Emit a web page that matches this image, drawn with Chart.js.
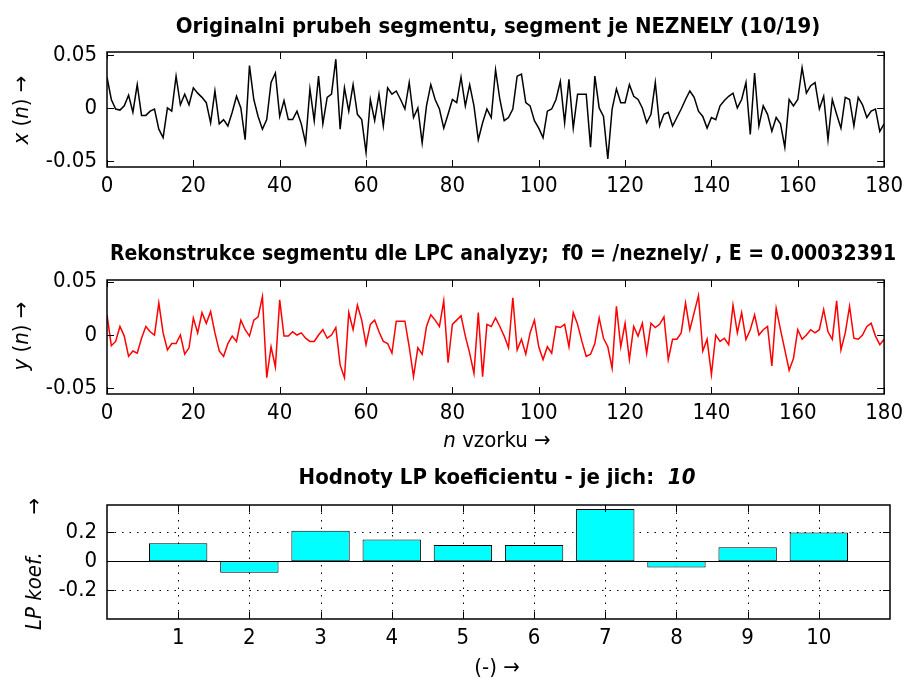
<!DOCTYPE html>
<html>
<head>
<meta charset="utf-8">
<script src="https://cdn.jsdelivr.net/npm/chart.js@4.4.0/dist/chart.umd.min.js"></script>
<style>
  body { margin: 0; background: #fff; }
  #wrap { position: relative; width: 909px; height: 682px; }
  canvas { position: absolute; left: 0; top: 0; }
</style>
</head>
<body>
<div id="wrap">
  <canvas id="c1" width="909" height="682"></canvas>
  <canvas id="c2" width="909" height="682"></canvas>
  <canvas id="c3" width="909" height="682"></canvas>
</div>
<script>
// ---- data ----
const origSig = [
  0.029, 0.008, -0.001, -0.002, 0.002, 0.012, -0.004, 0.022, -0.007, -0.007,
  -0.003, -0.001, -0.020, -0.028, 0.000, -0.003, 0.030, 0.003, 0.013, 0.003,
  0.019, 0.014, 0.010, 0.005, -0.014, 0.016, -0.015, -0.011, -0.017, -0.004,
  0.011, 0.000, -0.030, 0.040, 0.008, -0.008, -0.020, -0.011, 0.024, 0.033,
  -0.008, 0.007, -0.011, -0.011, -0.003, -0.015, -0.033, 0.018, -0.012, 0.030,
  -0.015, 0.010, 0.013, 0.046, -0.020, 0.019, -0.003, 0.022, -0.006, -0.011,
  -0.042, 0.008, -0.012, 0.013, -0.017, 0.019, 0.013, 0.016, 0.008, -0.001,
  0.024, -0.009, 0.000, -0.033, 0.002, 0.022, 0.008, -0.001, -0.019, -0.006,
  0.008, 0.005, 0.029, 0.002, 0.022, 0.002, -0.030, -0.014, -0.001, -0.009,
  0.036, 0.008, -0.012, -0.009, -0.001, 0.030, 0.032, 0.005, 0.002, -0.012,
  -0.019, -0.028, -0.003, -0.001, 0.008, 0.025, -0.014, 0.027, -0.019, 0.013,
  0.013, 0.013, -0.037, 0.030, 0.000, -0.008, -0.048, -0.001, 0.018, 0.005,
  0.005, 0.022, 0.011, 0.008, 0.000, -0.014, -0.006, 0.024, -0.017, -0.006,
  -0.004, -0.017, -0.009, -0.001, 0.008, 0.016, 0.010, -0.003, -0.008, -0.019,
  -0.009, -0.011, 0.002, 0.007, 0.011, 0.014, 0.000, 0.008, 0.024, -0.025,
  0.033, -0.017, 0.002, -0.006, -0.022, -0.009, -0.015, -0.037, 0.008, 0.002,
  0.008, 0.038, 0.014, 0.021, 0.024, -0.001, 0.011, -0.030, 0.008, -0.006,
  -0.019, 0.010, 0.008, -0.017, 0.010, 0.003, -0.009, -0.003, -0.001, -0.022,
  -0.015
];
const reconSig = [
  0.019, -0.010, -0.006, 0.008, -0.001, -0.020, -0.015, -0.017, -0.003, 0.008,
  0.003, 0.000, 0.030, 0.002, -0.014, -0.008, -0.008, 0.000, -0.018, -0.012,
  0.016, 0.002, 0.021, 0.011, 0.022, 0.002, -0.015, -0.020, -0.008, -0.001,
  -0.006, 0.014, 0.005, -0.001, 0.014, 0.017, 0.036, -0.040, -0.011, -0.030,
  0.033, -0.001, -0.001, 0.003, 0.000, 0.002, -0.003, -0.006, -0.006, 0.000,
  0.005, -0.003, 0.000, 0.007, -0.028, -0.040, 0.021, 0.005, 0.028, 0.014,
  -0.009, 0.010, 0.014, 0.003, -0.006, -0.008, -0.017, 0.013, 0.013, 0.013,
  -0.011, -0.039, -0.012, -0.018, 0.008, 0.019, 0.014, 0.008, 0.032, -0.026,
  0.010, 0.014, 0.018, -0.001, -0.017, -0.036, 0.021, -0.039, 0.010, 0.008,
  0.016, 0.008, -0.001, -0.012, 0.035, -0.014, -0.004, -0.018, 0.002, 0.014,
  -0.011, -0.023, -0.011, -0.017, 0.008, 0.007, 0.010, -0.011, 0.021, 0.010,
  -0.006, -0.020, -0.018, -0.008, 0.016, -0.003, -0.011, -0.031, 0.027, -0.011,
  0.011, -0.023, 0.008, -0.001, 0.011, -0.017, 0.011, 0.007, 0.010, 0.017,
  -0.023, -0.004, -0.004, 0.002, 0.030, 0.005, 0.021, 0.037, -0.015, -0.004,
  -0.037, 0.000, -0.006, -0.003, -0.009, 0.028, 0.002, 0.021, -0.004, 0.005,
  0.019, 0.000, 0.005, 0.008, -0.029, 0.025, 0.005, -0.014, -0.033, -0.022,
  0.005, -0.004, 0.000, 0.005, 0.002, 0.005, 0.024, 0.003, -0.004, 0.032,
  -0.014, 0.002, 0.027, -0.003, -0.004, 0.000, 0.008, 0.011, -0.001, -0.009,
  -0.004
];
const lpIndex = [1, 2, 3, 4, 5, 6, 7, 8, 9, 10];
const lpCoef = [0.125, -0.079, 0.212, 0.151, 0.114, 0.114, 0.363, -0.042, 0.098, 0.200];

const sigTicksX = [0, 20, 40, 60, 80, 100, 120, 140, 160, 180];
const sigTicksY = [-0.05, 0, 0.05];
const sigTickLabelsY = ['-0.05', '0', '0.05'];
const lpTicksY = [-0.2, 0, 0.2];
const lpTickLabelsY = ['-0.2', '0', '0.2'];

const FAM = "'Liberation Sans Narrow', 'DejaVu Sans Condensed', 'Liberation Sans', sans-serif";
Chart.defaults.font.family = FAM;
Chart.defaults.font.size = 22;
Chart.defaults.color = '#000';

// text with mixed styles, centred on (x, y), optionally rotated
function drawRich(ctx, parts, x, y, rot, size) {
  ctx.save();
  ctx.translate(x, y);
  if (rot) ctx.rotate(-Math.PI / 2);
  ctx.textBaseline = 'middle';
  ctx.textAlign = 'left';
  ctx.fillStyle = '#000';
  let w = 0;
  for (const p of parts) {
    ctx.font = (p.s || '') + ' ' + size + 'px ' + FAM;
    w += ctx.measureText(p.t).width;
  }
  let cx = -w / 2;
  for (const p of parts) {
    ctx.font = (p.s || '') + ' ' + size + 'px ' + FAM;
    ctx.fillText(p.t, cx, 0);
    cx += ctx.measureText(p.t).width;
  }
  ctx.restore();
}

const matlabAxes = {
  id: 'matlabAxes',
  beforeDatasetsDraw(chart, args, opts) {
    if (!opts.grid) return;
    const ctx = chart.ctx, a = chart.chartArea;
    const xs = chart.scales.x, ys = chart.scales.y;
    ctx.save();
    ctx.strokeStyle = '#000';
    ctx.lineWidth = 1;
    ctx.setLineDash([1.5, 6]);
    ctx.beginPath();
    xs.ticks.forEach(t => {
      const px = Math.round(xs.getPixelForValue(t.value)) + 0.5;
      ctx.moveTo(px, a.top); ctx.lineTo(px, a.bottom);
    });
    ys.ticks.forEach(t => {
      const py = Math.round(ys.getPixelForValue(t.value)) + 0.5;
      ctx.moveTo(a.left, py); ctx.lineTo(a.right, py);
    });
    ctx.stroke();
    ctx.restore();
  },
  afterDatasetsDraw(chart, args, opts) {
    const ctx = chart.ctx, a = chart.chartArea;
    const xs = chart.scales.x, ys = chart.scales.y;
    const tl = 7;
    ctx.save();
    ctx.strokeStyle = '#000';
    ctx.lineWidth = 1;
    ctx.beginPath();
    xs.ticks.forEach(t => {
      const px = Math.round(xs.getPixelForValue(t.value)) + 0.5;
      ctx.moveTo(px, a.top); ctx.lineTo(px, a.top + tl);
      ctx.moveTo(px, a.bottom); ctx.lineTo(px, a.bottom - tl);
    });
    ys.ticks.forEach(t => {
      const py = Math.round(ys.getPixelForValue(t.value)) + 0.5;
      ctx.moveTo(a.left, py); ctx.lineTo(a.left + tl, py);
      ctx.moveTo(a.right, py); ctx.lineTo(a.right - tl, py);
    });
    if (opts.baseline) {
      const py = Math.round(ys.getPixelForValue(0)) + 0.5;
      ctx.moveTo(a.left, py); ctx.lineTo(a.right, py);
    }
    ctx.stroke();
    ctx.lineWidth = 1.5;
    ctx.strokeRect(a.left, a.top, a.right - a.left, a.bottom - a.top);
    ctx.restore();
  },
  afterDraw(chart, args, opts) {
    (opts.texts || []).forEach(t => drawRich(chart.ctx, t.parts, t.x, t.y, t.rot, t.size));
  }
};

function axisScales(box, xCfg, yCfg) {
  return {
    x: Object.assign({
      type: 'linear',
      grid: { display: false, drawTicks: false },
      border: { display: false },
      ticks: { padding: 6, maxRotation: 0 },
      afterFit: s => { s.height = 682 - box.bottom; }
    }, xCfg),
    y: Object.assign({
      type: 'linear',
      grid: { display: false, drawTicks: false },
      border: { display: false },
      ticks: { padding: 10 },
      afterFit: s => { s.width = box.left; }
    }, yCfg)
  };
}

function lineChart(id, sig, color, box, yMin, yMax, texts) {
  return new Chart(document.getElementById(id), {
    type: 'line',
    data: {
      datasets: [{
        data: sig.map((v, i) => ({ x: i, y: v })),
        borderColor: color,
        borderWidth: 1.5,
        pointRadius: 0,
        tension: 0,
        fill: false
      }]
    },
    options: {
      responsive: false,
      animation: false,
      layout: { padding: { left: 0, top: box.top, right: 909 - box.right, bottom: 0 } },
      plugins: { legend: { display: false }, tooltip: { enabled: false },
        matlabAxes: { texts: texts } },
      scales: axisScales(box,
        { min: 0, max: 180,
          afterBuildTicks: s => { s.ticks = sigTicksX.map(v => ({ value: v })); } },
        { min: yMin, max: yMax,
          afterBuildTicks: s => { s.ticks = sigTicksY.map(v => ({ value: v })); },
          ticks: { padding: 10, callback: v => sigTickLabelsY[sigTicksY.indexOf(v)] } })
    },
    plugins: [matlabAxes]
  });
}

lineChart('c1', origSig, '#000000', { left: 107, right: 890, top: 52, bottom: 167 }, -0.0557, 0.0528, [
  { parts: [{ t: 'Originalni prubeh segmentu, segment je NEZNELY (10/19)', s: 'bold' }], x: 498, y: 27, size: 22 },
  { parts: [{ t: 'x', s: 'italic' }, { t: ' (' }, { t: 'n', s: 'italic' }, { t: ') \u2192' }], x: 22, y: 110, rot: true, size: 22 }
]);

lineChart('c2', reconSig, '#ff0000', { left: 107, right: 890, top: 280, bottom: 394 }, -0.0553, 0.0516, [
  { parts: [{ t: 'Rekonstrukce segmentu dle LPC analyzy;  f0 = /neznely/ , E = 0.00032391', s: 'bold' }], x: 503, y: 255, size: 21 },
  { parts: [{ t: 'y', s: 'italic' }, { t: ' (' }, { t: 'n', s: 'italic' }, { t: ') \u2192' }], x: 22, y: 336, rot: true, size: 22 },
  { parts: [{ t: 'n', s: 'italic' }, { t: ' vzorku \u2192' }], x: 497, y: 441, size: 22 }
]);

const box3 = { left: 107, right: 890, top: 505, bottom: 619 };
new Chart(document.getElementById('c3'), {
  type: 'bar',
  data: {
    datasets: [{
      data: lpIndex.map((k, i) => ({ x: k, y: lpCoef[i] })),
      backgroundColor: '#00ffff',
      borderColor: '#000000',
      borderWidth: 1,
      borderSkipped: false,
      barPercentage: 0.82,
      categoryPercentage: 1
    }]
  },
  options: {
    responsive: false,
    animation: false,
    layout: { padding: { left: 0, top: box3.top, right: 909 - box3.right, bottom: 0 } },
    plugins: { legend: { display: false }, tooltip: { enabled: false },
      matlabAxes: { grid: true, baseline: true, texts: [
        { parts: [{ t: 'Hodnoty LP koeficientu - je jich:  ', s: 'bold' }, { t: '10', s: 'italic bold' }], x: 497, y: 478, size: 22 },
        { parts: [{ t: 'LP koef.', s: 'italic' }, { t: '      \u2192' }], x: 35, y: 564, rot: true, size: 22 },
        { parts: [{ t: '(-) \u2192' }], x: 497, y: 668, size: 22 }
      ] } },
    scales: axisScales(box3,
      { min: 0, max: 11, offset: false,
        afterBuildTicks: s => { s.ticks = lpIndex.map(v => ({ value: v })); } },
      { min: -0.399, max: 0.39,
        afterBuildTicks: s => { s.ticks = lpTicksY.map(v => ({ value: v })); },
        ticks: { padding: 10, callback: v => lpTickLabelsY[lpTicksY.indexOf(v)] } })
  },
  plugins: [matlabAxes]
});
</script>
</body>
</html>
